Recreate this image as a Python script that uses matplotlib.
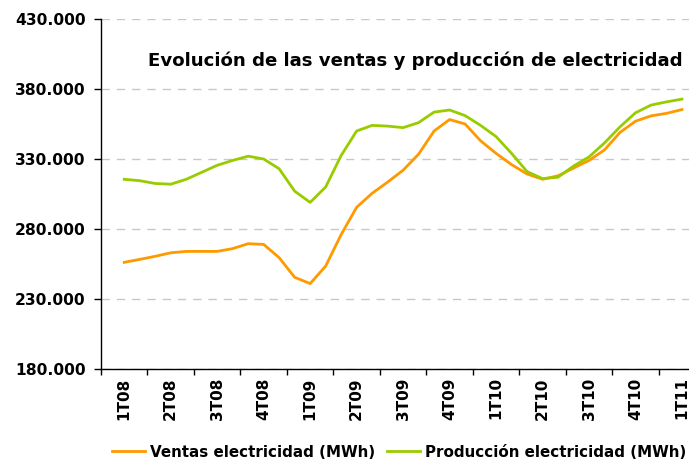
import matplotlib
matplotlib.use("Agg")
import matplotlib.pyplot as plt
import numpy as np
from matplotlib.ticker import FuncFormatter, FixedLocator

# monthly values (miles de MWh), ene-08 .. ene-11
ventas = [256.2, 258.3, 260.5, 263.0, 264.0, 264.0, 264.0, 266.0, 269.5, 269.0,
          259.5, 245.5, 241.0, 253.5, 276.0, 295.5, 305.5, 313.5, 322.0, 333.5,
          350.0, 358.2, 355.0, 343.0, 334.0, 326.0, 319.3, 315.5, 318.0, 323.5,
          329.0, 336.5, 349.0, 357.0, 360.8, 362.6, 365.3]
produccion = [315.5, 314.5, 312.5, 312.0, 315.5, 320.5, 325.5, 329.0, 332.0, 330.0,
              323.0, 307.0, 299.0, 310.0, 332.5, 350.0, 354.0, 353.5, 352.4, 356.0,
              363.5, 365.0, 361.0, 354.0, 346.0, 334.0, 321.0, 316.0, 317.0, 325.0,
              331.5, 341.5, 353.0, 363.0, 368.5, 370.8, 372.8]
quarters = ["1T08", "2T08", "3T08", "4T08", "1T09", "2T09", "3T09", "4T09",
            "1T10", "2T10", "3T10", "4T10", "1T11"]
yticks = [180, 230, 280, 330, 380, 430]

plt.rcParams["font.family"] = ["DejaVu Sans"]
plt.rcParams["font.weight"] = "bold"

fig = plt.figure(figsize=(6.89, 4.61), dpi=100)
ax = fig.add_axes([101 / 689, 92 / 461, 588 / 689, 350 / 461])

x = np.arange(len(ventas))
ax.plot(x, ventas, color="#FF9900", lw=2, solid_joinstyle="round",
        label="Ventas electricidad (MWh)")
ax.plot(x, produccion, color="#99CC00", lw=2, solid_joinstyle="round",
        label="Producción electricidad (MWh)")

ax.set_ylim(180, 430)
ax.set_xlim(-1.5, (689 - 124) / 15.5)
ax.set_yticks(yticks)
ax.yaxis.set_major_formatter(FuncFormatter(lambda v, p: f"{int(v)}.000"))
ax.yaxis.grid(True, color="#c8c8c8", linestyle=(0, (6, 5)), linewidth=1)
ax.set_axisbelow(True)

ax.set_xticks(np.arange(0, 37, 3))
ax.set_xticklabels(quarters, rotation=90, fontsize=11, fontweight="bold")
ax.xaxis.set_minor_locator(FixedLocator(np.arange(-1.5, 37, 3)))
ax.tick_params(axis="x", which="major", length=0, pad=6)
ax.tick_params(axis="x", which="minor", length=4, width=1, direction="out")
ax.tick_params(axis="y", length=5, width=1, direction="out", pad=6, labelsize=11.2)
for lab in ax.get_yticklabels():
    lab.set_fontweight("bold")

for side in ("top", "right"):
    ax.spines[side].set_visible(False)
for side in ("left", "bottom"):
    ax.spines[side].set_color("black")
    ax.spines[side].set_linewidth(1)

ax.text((683 - 101) / 588, (461 - 61 - 92) / 350,
        "Evolución de las ventas y producción de electricidad",
        transform=ax.transAxes, ha="right", va="center",
        fontsize=13.1, fontweight="bold")

fig.legend(loc="center", bbox_to_anchor=(399 / 689, 9 / 461), ncol=2, frameon=False,
           prop={"weight": "bold", "size": 10.9}, handlelength=2.2,
           handletextpad=0.3, columnspacing=0.8)

fig.savefig("out.png", dpi=100)
